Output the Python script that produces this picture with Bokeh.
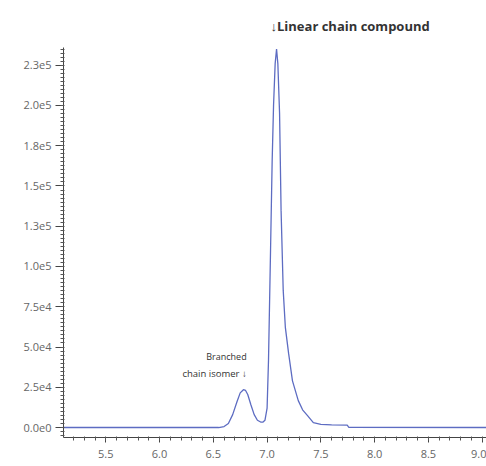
from bokeh.plotting import figure
from bokeh.models import Range1d, SingleIntervalTicker, Label, Title
from bokeh.embed import file_html
from bokeh.resources import INLINE

# Retention time (min) and intensity (counts)
time = [5.1, 6.55, 6.60, 6.64, 6.68, 6.72, 6.75, 6.78, 6.80, 6.82, 6.85, 6.88,
        6.91, 6.94, 6.96, 6.98, 7.00, 7.013, 7.032, 7.047, 7.06, 7.075, 7.088,
        7.10, 7.116, 7.13, 7.15, 7.17, 7.20, 7.236, 7.29, 7.33, 7.376, 7.43,
        7.50, 7.60, 7.745, 7.76, 9.1]
intensity = [0, 0, 600, 2500, 8000, 16000, 21500, 23500, 23000, 20500, 14000, 8000,
             4500, 3400, 3300, 4500, 12000, 41500, 110000, 165000, 200000, 226000, 235000,
             226000, 195000, 135000, 85000, 62000, 46000, 29000, 16700, 11000, 7400, 3000,
             2000, 1700, 1500, 100, 0]

x_ticks = [5.5, 6.0, 6.5, 7.0, 7.5, 8.0, 8.5, 9.0]
x_labels = ["5.5", "6.0", "6.5", "7.0", "7.5", "8.0", "8.5", "9.0"]
y_ticks = [0, 25000, 50000, 75000, 100000, 125000, 150000, 175000, 200000, 225000]
y_labels = ["0.0e0", "2.5e4", "5.0e4", "7.5e4", "1.0e5", "1.3e5", "1.5e5", "1.8e5", "2.0e5", "2.3e5"]

font = "Open Sans"

p = figure(width=486, height=466, output_backend="svg", toolbar_location=None,
           x_range=Range1d(5.107, 9.04), y_range=Range1d(-6200, 236000))
p.min_border_left = 63
p.min_border_top = 47
p.min_border_bottom = 29
p.min_border_right = 0
p.outline_line_color = None
p.xgrid.visible = False
p.ygrid.visible = False
p.background_fill_color = "white"

p.line(time, intensity, line_color="#5d6cc2", line_width=1.3)

p.xaxis.ticker = SingleIntervalTicker(interval=0.5, num_minor_ticks=5)
p.yaxis.ticker = SingleIntervalTicker(interval=25000, num_minor_ticks=10)
p.xaxis.major_label_overrides = {t: l for t, l in zip(x_ticks, x_labels)}
p.yaxis.major_label_overrides = {t: l for t, l in zip(y_ticks, y_labels)}
for ax in (p.xaxis, p.yaxis):
    ax.axis_line_color = "#444444"
    ax.major_tick_line_color = "#444444"
    ax.minor_tick_line_color = "#555555"
    ax.major_tick_in = 0
    ax.minor_tick_out = 3
    ax.minor_tick_in = 1
    ax.major_label_text_font = font
    ax.major_label_text_font_size = "11px"
    ax.major_label_text_color = "#666666"
p.xaxis.major_tick_out = 5
p.yaxis.major_tick_out = 8
p.xaxis.major_label_standoff = 7
p.yaxis.major_label_standoff = 4

p.add_layout(Title(text="\u2193Linear chain compound", align="left", offset=207,
                   standoff=25, text_font=font, text_font_size="13px",
                   text_font_style="bold", text_color="#333333"), "above")
p.add_layout(Label(x=6.81, y=43900, text="Branched",
                   text_font=font, text_font_size="9px", text_color="#333333",
                   text_baseline="middle", text_align="right"))
p.add_layout(Label(x=6.81, y=33400, text="chain isomer \u2193",
                   text_font=font, text_font_size="9.5px", text_color="#333333",
                   text_baseline="middle", text_align="right"))

open("out.html", "w").write(file_html(p, INLINE))
